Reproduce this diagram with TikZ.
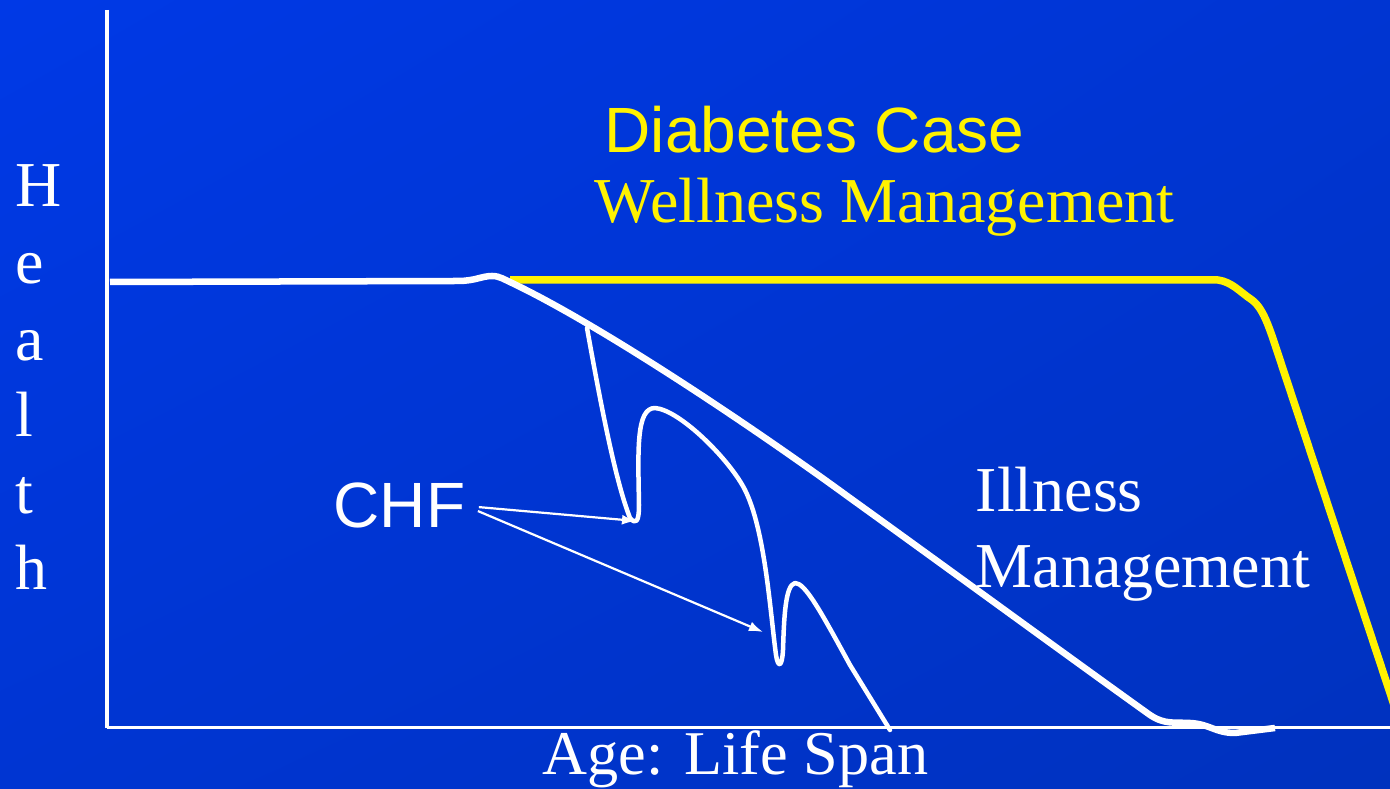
\documentclass[tikz,border=0pt]{standalone}
\usepackage{fontspec}
\setmainfont{Liberation Serif}
\newfontfamily\arialfont{Liberation Sans}
\usetikzlibrary{arrows.meta,shadings}
\definecolor{bgtop}{RGB}{0,57,230}
\definecolor{bgmid}{RGB}{0,53,210}
\definecolor{bgbot}{RGB}{0,50,190}
\begin{document}
\begin{tikzpicture}[x=0.01cm, y=-0.01cm,
  axis/.style={white, line width=0.04cm},
  health/.style={white, line width=0.065cm, line join=round},
  wellness/.style={yellow, line width=0.075cm, line join=round},
  chfcurve/.style={white, line width=0.045cm, line join=round, line cap=round},
  pointer/.style={white, line width=0.022cm, -{Latex[length=0.14cm,width=0.1cm]}},
  lbl/.style={inner sep=0pt, anchor=base west, font=\fontsize{18.2}{20}\selectfont}]
\useasboundingbox (0,0) rectangle (1390,789);
\shade[upper left=bgtop, upper right=bgmid, lower left=bgmid, lower right=bgbot] (0,0) rectangle (1390,789);

% axes
\draw[axis] (107,10) -- (107,728);
\draw[white, line width=0.03cm] (107,728) -- (1392,728);

% labels
\foreach \ch [count=\i] in {H,e,a,l,t,h}
  \node[lbl, white] (health\i) at (15,{130.4+76.6*\i}) {\ch};
\node[lbl, white, font=\fontsize{17.7}{20}\selectfont] (age) at (542,775) {Age: Life Span};
\node[lbl, yellow, font=\arialfont\fontsize{18.2}{20}\selectfont] (diabetes) at (604,153) {Diabetes Case};
\node[lbl, yellow] (wellness) at (594,223) {Wellness Management};
\node[lbl, white] (illness) at (975,512) {Illness};
\node[lbl, white] (mgmt) at (975,588) {Management};
\node[lbl, white, font=\arialfont\fontsize{18.2}{20}\selectfont] (chf) at (333,528) {CHF};

% wellness curve
\draw[wellness] (510,280) -- (1218,280) .. controls (1232,282) and (1240,292) .. (1252,300)
  .. controls (1265,310) and (1270,330) .. (1285,375) -- (1394,705);

% illness curve
\draw[health] (110,282) -- (458,281) .. controls (475,281) and (482,276) .. (492,276)
  .. controls (500,276) and (505,280) .. (512,283)
  .. controls (600,325) and (750,425) .. (850,498)
  .. controls (950,570) and (1080,665) .. (1150,715)
  .. controls (1165,725) and (1175,722) .. (1190,723)
  .. controls (1210,724) and (1215,733) .. (1235,733) -- (1275,728);

% CHF curve
\draw[chfcurve] (587,328) .. controls (600,400) and (615,480) .. (630,518)
  .. controls (636,525) and (639,522) .. (639,505)
  .. controls (638,450) and (636,408) .. (655,408)
  .. controls (680,410) and (730,460) .. (745,490)
  .. controls (765,530) and (770,610) .. (776,655)
  .. controls (778,668) and (782,668) .. (783,650)
  .. controls (784,620) and (785,585) .. (795,583)
  .. controls (805,583) and (820,610) .. (850,665) -- (890,730);

\coordinate (dip1) at (636,521);
\coordinate (dip2) at (763,632);
\draw[pointer, shorten <=0.13cm] (chf.east) -- (dip1);
\draw[pointer, shorten <=0.13cm] (chf.east) -- (dip2);
\end{tikzpicture}
\end{document}
